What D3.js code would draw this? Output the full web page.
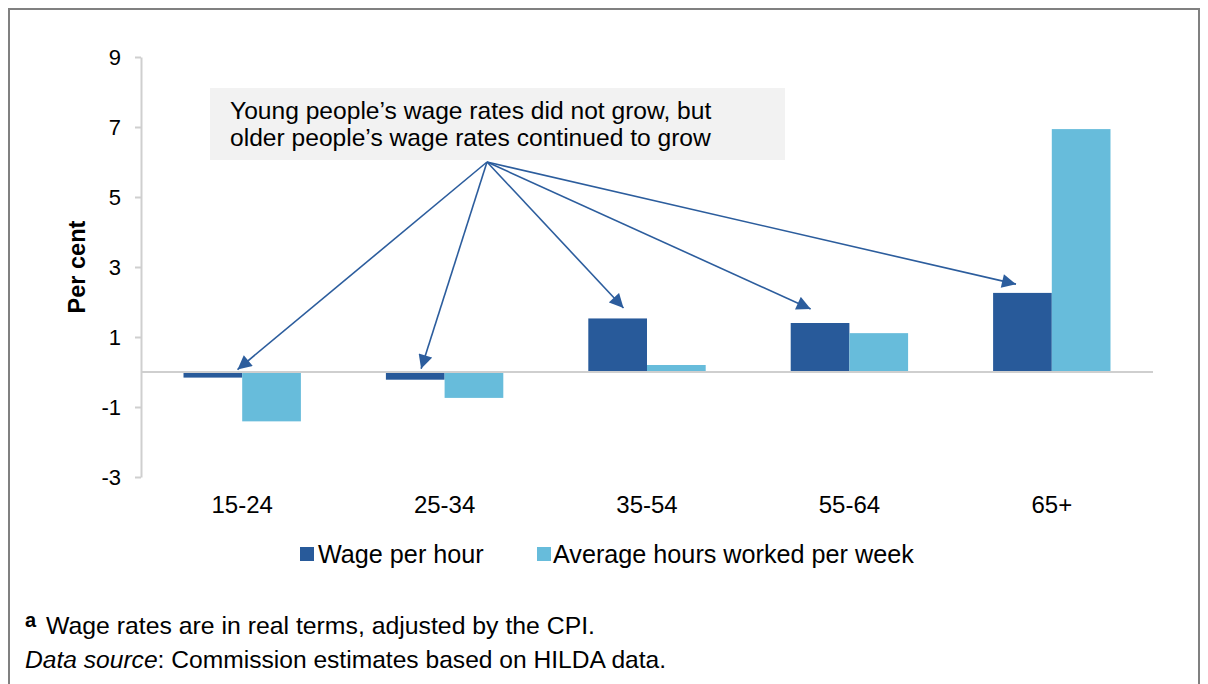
<!DOCTYPE html>
<html>
<head>
<meta charset="utf-8">
<script src="https://cdn.jsdelivr.net/npm/d3@7"></script>
<style>
  html, body { margin: 0; padding: 0; background: #fff; }
  svg { display: block; font-family: "Liberation Sans", Arial, sans-serif; }
</style>
</head>
<body>
<svg id="chart" width="1208" height="684"></svg>
<script>
// Age groups and the two series (per cent change)
const categories = ["15-24", "25-34", "35-54", "55-64", "65+"];
const seriesNames = ["Wage per hour", "Average hours worked per week"];
const wagePerHour = [-0.16, -0.22, 1.53, 1.40, 2.26];
const hoursPerWeek = [-1.41, -0.74, 0.20, 1.11, 6.94];
const yTicks = [-3, -1, 1, 3, 5, 7, 9];

// Arrow targets: position within each group (fraction of group width) and value height
const arrowCats = ["15-24", "25-34", "35-54", "55-64", "65+"];
const arrowFrac = [0.46, 0.30, 0.30, 0.17, 0.195];
const arrowVal = [0.07, 0.09, 1.83, 1.80, 2.51];

const noteLines = [
  "Young people\u2019s wage rates did not grow, but",
  "older people\u2019s wage rates continued to grow"
];

const colors = ["#285A9A", "#67BCDB"];
const arrowColor = "#2C5D9D";
const axisColor = "#cfcfcf";

const svg = d3.select("#chart");

// Outer frame
svg.append("rect")
  .attr("x", 9).attr("y", 9)
  .attr("width", 1190).attr("height", 700)
  .attr("fill", "none").attr("stroke", "#808080").attr("stroke-width", 2);

const plot = { left: 141, right: 1153, top: 57, bottom: 477 };

const y = d3.scaleLinear().domain([-3, 9]).range([plot.bottom, plot.top]);
const x0 = d3.scaleBand().domain(categories)
  .range([plot.left, plot.right]).paddingInner(0.42).paddingOuter(0.21);
const x1 = d3.scaleBand().domain(seriesNames).range([0, x0.bandwidth()]);

const rows = categories.map((c, i) => ({ cat: c, vals: [wagePerHour[i], hoursPerWeek[i]] }));

// Y axis
const yAxis = d3.axisLeft(y).tickValues(yTicks).tickFormat(d => String(d))
  .tickSize(6).tickSizeOuter(0).tickPadding(14);
const gy = svg.append("g").attr("transform", `translate(${plot.left},0)`).call(yAxis);
gy.select(".domain").attr("stroke", axisColor).attr("stroke-width", 2);
gy.selectAll(".tick line").attr("stroke", axisColor).attr("stroke-width", 2);
gy.selectAll(".tick text").attr("font-size", 22).attr("fill", "#000")
  .attr("font-family", "Liberation Sans, Arial, sans-serif");

// Y axis title
svg.append("text")
  .attr("transform", `translate(85,${(plot.top + plot.bottom) / 2}) rotate(-90)`)
  .attr("text-anchor", "middle")
  .attr("font-size", 23.5).attr("font-weight", "bold")
  .text("Per cent");

// Bars
const groups = svg.append("g").selectAll("g").data(rows).join("g")
  .attr("transform", d => `translate(${x0(d.cat)},0)`);
groups.selectAll("rect")
  .data(d => d.vals.map((v, j) => ({ v, s: seriesNames[j], j })))
  .join("rect")
  .attr("x", d => x1(d.s))
  .attr("width", x1.bandwidth())
  .attr("y", d => y(Math.max(0, d.v)))
  .attr("height", d => Math.abs(y(d.v) - y(0)))
  .attr("fill", d => colors[d.j]);

// Zero line
svg.append("line")
  .attr("x1", plot.left).attr("x2", plot.right)
  .attr("y1", y(0)).attr("y2", y(0))
  .attr("stroke", axisColor).attr("stroke-width", 2);

// Category labels
svg.append("g").selectAll("text").data(categories).join("text")
  .attr("x", d => x0(d) + x0.bandwidth() / 2)
  .attr("y", 513)
  .attr("text-anchor", "middle")
  .attr("font-size", 24)
  .text(d => d);

// Legend
const legendX = [300, 537];
const legend = svg.append("g").selectAll("g").data(seriesNames).join("g")
  .attr("transform", (d, i) => `translate(${legendX[i]},547)`);
legend.append("rect").attr("width", 14).attr("height", 14)
  .attr("fill", (d, i) => colors[i]);
legend.append("text").attr("x", (d, i) => i === 0 ? 18 : 16).attr("y", 16)
  .attr("font-size", 25.2).text(d => d);

// Annotation box
svg.append("rect")
  .attr("x", 210).attr("y", 88).attr("width", 575).attr("height", 72)
  .attr("fill", "#f2f2f2");
svg.append("g").selectAll("text").data(noteLines).join("text")
  .attr("x", 230).attr("y", (d, i) => 119 + i * 27)
  .attr("font-size", 24.6).text(d => d);

// Arrows from the annotation to each age group
const defs = svg.append("defs");
defs.append("marker")
  .attr("id", "arrowhead")
  .attr("viewBox", "0 0 10 10")
  .attr("refX", 10).attr("refY", 5)
  .attr("markerUnits", "userSpaceOnUse")
  .attr("markerWidth", 15).attr("markerHeight", 14)
  .attr("orient", "auto")
  .append("path").attr("d", "M0,0 L10,5 L0,10 Z").attr("fill", arrowColor);

const origin = [487, 162];
svg.append("g").selectAll("line").data(arrowCats).join("line")
  .attr("x1", origin[0]).attr("y1", origin[1])
  .attr("x2", (d, i) => x0(d) + arrowFrac[i] * x0.bandwidth())
  .attr("y2", (d, i) => y(arrowVal[i]))
  .attr("stroke", arrowColor).attr("stroke-width", 1.6)
  .attr("marker-end", "url(#arrowhead)");

// Notes
const note1 = svg.append("text").attr("x", 25).attr("y", 634).attr("font-size", 24.8);
note1.append("tspan").attr("font-weight", "bold").attr("font-size", 20).attr("dy", -7).text("a");
note1.append("tspan").attr("x", 46).attr("dy", 7).text("Wage rates are in real terms, adjusted by the CPI.");

const note2 = svg.append("text").attr("x", 25).attr("y", 668).attr("font-size", 24.6);
note2.append("tspan").attr("font-style", "italic").text("Data source");
note2.append("tspan").text(": Commission estimates based on HILDA data.");
</script>
</body>
</html>
